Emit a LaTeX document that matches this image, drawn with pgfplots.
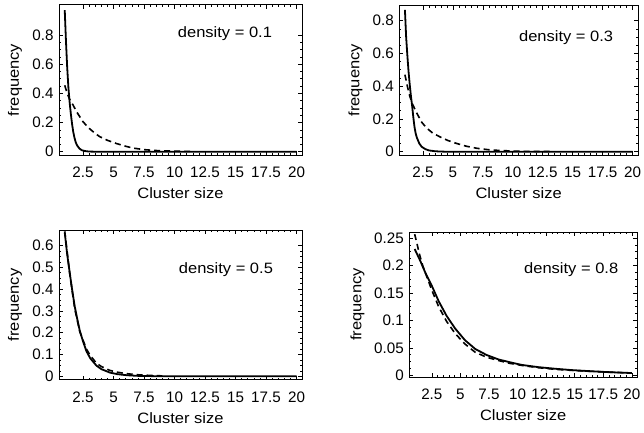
\documentclass[border=0pt]{standalone}
\usepackage{fontspec}
\setmainfont{Liberation Sans}
\newfontfamily\labfont{Liberation Sans}[FakeStretch=1.1]
\usepackage{pgfplots}
\pgfplotsset{compat=1.18}

\pgfplotsset{
  cluster/.style={
    scale only axis,
    xmin=0.53, xmax=20.45,
    xtick={2.5,5,...,20},
    minor x tick num=4, minor y tick num=3,
    tick align=inside,
    major tick length=4pt, minor tick length=2pt,
    axis line style={line width=1pt},
    every tick/.style={black,line width=0.6pt},
    scaled y ticks=false, scaled x ticks=false,
    /pgf/number format/fixed,
    /pgf/number format/precision=2,
    /pgf/number format/assume math mode=true,
    tick label style={font=\fontsize{15.2}{17}\selectfont},
    xticklabel style={anchor=center,yshift=-17.5pt},
    yticklabel style={xshift=-2pt},
    label style={font=\fontsize{15}{17}\selectfont},
    xlabel={\labfont Cluster size},
    ylabel={\labfont frequency},
    xlabel style={at={(axis description cs:0.5,0)},anchor=center,yshift=-38pt},
    ylabel style={at={(axis description cs:#1,0.5)},anchor=center},
    clip=true,
  },
  sim/.style={black,line width=1.8pt,line join=round},
  mf/.style={black,line width=1.6pt,dash pattern=on 6pt off 4pt},
}

\begin{document}
\begin{tikzpicture}
\path[use as bounding box] (0,0) rectangle (644pt,432pt);

% density = 0.1
\begin{axis}[cluster=-0.181, at={(59pt,277pt)}, anchor=south west,
  width=243pt, height=150pt, ymin=-0.0226, ymax=1.005,
  ytick={0,0.2,0.4,0.6,0.8}]
  \addplot[sim] coordinates {(1,0.97)(1.1,0.76)(1.2,0.58)(1.3,0.44)(1.4,0.34)(1.5,0.26)(1.6,0.19)(1.7,0.135)(1.8,0.095)(1.9,0.065)(2,0.045)(2.2,0.022)(2.4,0.01)(2.7,0.004)(3,0.001)(3.5,0)(20,0)};
  \addplot[mf] coordinates {(1,0.455)(1.2,0.40)(1.4,0.36)(1.68,0.32)(2,0.27)(2.5,0.205)(3,0.16)(3.5,0.125)(3.87,0.103)(4.5,0.078)(5.24,0.056)(6,0.037)(6.6,0.025)(7.5,0.014)(8.5,0.008)(9.5,0.005)(10.5,0.003)(11.5,0.002)};
  \node at (rel axis cs:0.683,0.807) {\fontsize{15}{17}\selectfont\labfont density = 0.1};
\end{axis}

% density = 0.3
\begin{axis}[cluster=-0.184, at={(399.3pt,277pt)}, anchor=south west,
  width=238.7pt, height=149.3pt, ymin=-0.020, ymax=0.891,
  ytick={0,0.2,0.4,0.6,0.8}]
  \addplot[sim] coordinates {(1,0.865)(1.1,0.70)(1.2,0.59)(1.3,0.49)(1.4,0.41)(1.5,0.34)(1.6,0.28)(1.7,0.21)(1.8,0.15)(1.9,0.11)(2,0.085)(2.2,0.05)(2.4,0.03)(2.7,0.016)(3,0.008)(3.5,0.003)(4,0.001)(4.5,0)(20,0)};
  \addplot[mf] coordinates {(1,0.47)(1.2,0.40)(1.4,0.34)(1.6,0.295)(2,0.234)(2.4,0.18)(2.83,0.143)(3.3,0.115)(3.94,0.09)(4.6,0.068)(5.33,0.05)(6.1,0.034)(7,0.021)(8,0.012)(9,0.007)(10.5,0.003)(12,0.0015)(13.3,0.001)};
  \node at (rel axis cs:0.699,0.787) {\fontsize{15}{17}\selectfont\labfont density = 0.3};
\end{axis}

% density = 0.5
\begin{axis}[cluster=-0.181, at={(59pt,52.3pt)}, anchor=south west,
  width=243pt, height=149.7pt, ymin=-0.0156, ymax=0.671,
  ytick={0,0.1,0.2,0.3,0.4,0.5,0.6}]
  \addplot[sim] coordinates {(1,0.66)(1.2,0.56)(1.41,0.475)(1.6,0.40)(1.82,0.32)(2,0.27)(2.23,0.21)(2.5,0.16)(2.78,0.115)(3.1,0.082)(3.6,0.049)(4,0.033)(4.7,0.017)(5.3,0.01)(6.07,0.005)(7,0.002)(8,0.001)(9,0)(20,0)};
  \addplot[mf] coordinates {(1,0.665)(1.41,0.47)(1.82,0.31)(2.23,0.205)(2.78,0.125)(3.1,0.095)(3.6,0.06)(4,0.045)(4.7,0.027)(5.3,0.019)(6.07,0.012)(7,0.007)(8,0.004)(9,0.002)};
  \node at (rel axis cs:0.687,0.733) {\fontsize{15}{17}\selectfont\labfont density = 0.5};
\end{axis}

% density = 0.8
\begin{axis}[cluster=-0.228, at={(409.3pt,55pt)}, anchor=south west,
  width=227.7pt, height=145pt, ymin=-0.003, ymax=0.261,
  ytick={0,0.05,0.1,0.15,0.2,0.25}]
  \addplot[sim] coordinates {(1,0.23)(1.5,0.208)(1.93,0.187)(2.5,0.163)(3.1,0.135)(3.8,0.108)(4.55,0.085)(5.4,0.064)(6.3,0.048)(7.3,0.037)(8.33,0.029)(9.3,0.024)(10.37,0.019)(11.8,0.015)(13.3,0.012)(14.8,0.0095)(16.2,0.0078)(17.8,0.006)(20,0.0042)};
  \addplot[mf] coordinates {(1,0.257)(1.2,0.24)(1.4,0.222)(1.7,0.2)(2,0.183)(2.5,0.155)(3.1,0.125)(3.8,0.098)(4.55,0.076)(5.4,0.057)(6.3,0.042)(7.3,0.033)(8.33,0.027)(9.3,0.022)(10.4,0.018)(11.8,0.014)(13.3,0.011)(14.8,0.009)(16.2,0.0075)(17.8,0.006)(20,0.0042)};
  \node at (rel axis cs:0.711,0.743) {\fontsize{15}{17}\selectfont\labfont density = 0.8};
\end{axis}
\end{tikzpicture}
\end{document}
